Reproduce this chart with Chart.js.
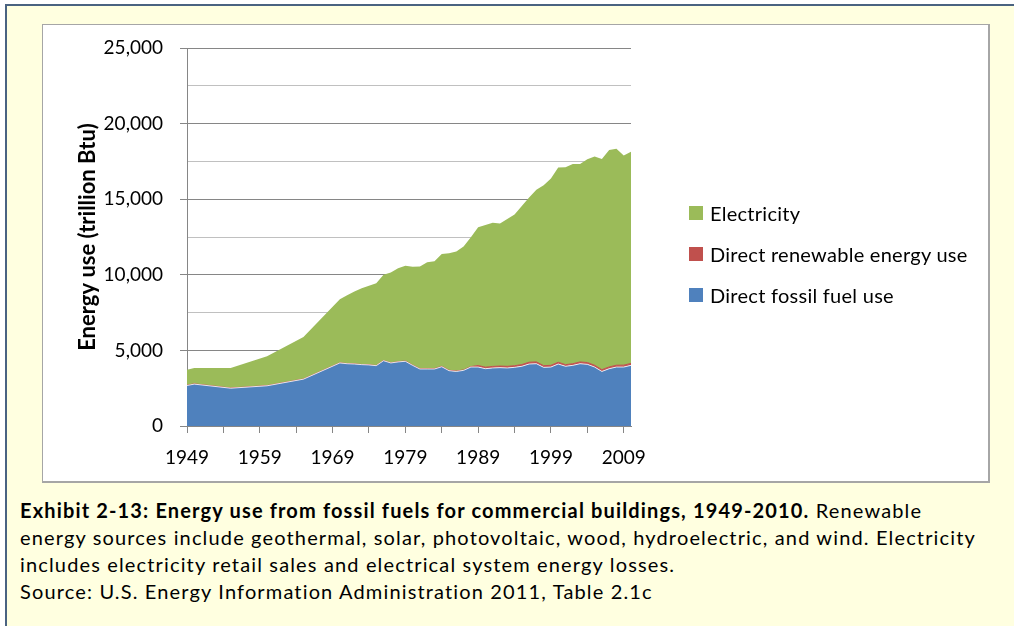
<!DOCTYPE html>
<html>
<head>
<meta charset="utf-8">
<script src="https://cdn.jsdelivr.net/npm/chart.js@4"></script>
<style>
  body { margin: 0; background: #fff; width: 1014px; height: 626px; overflow: hidden; font-family: 'Lato', sans-serif; }
  .frame { position: absolute; left: 5px; top: 4px; width: 1030px; height: 640px; background: #FFFFE0; border-top: 2px solid #4a6381; border-left: 2px solid #4a6381; }
  .chart-box { position: absolute; left: 35px; top: 18px; width: 945px; height: 456px; background: #fff; border: 1px solid #a6a6a6; border-right-width: 2px; border-bottom-width: 2px; }
  .chart-box canvas { display: block; }
  #legend-list { position: absolute; left: 646px; top: 178px; margin: 0; padding: 0; list-style: none; }
  #legend-list li { display: flex; align-items: center; height: 20px; margin-bottom: 21px; font-size: 20px; letter-spacing: 0.27px; white-space: nowrap; }
  #legend-list .swatch { width: 14px; height: 14px; margin-right: 7px; flex: none; }
  .caption { position: absolute; left: 13px; top: 491px; margin: 0; font-size: 20px; letter-spacing: 1.15px; line-height: 27px; color: #000; white-space: nowrap; }
</style>
</head>
<body>
<div class="frame">
  <div class="chart-box">
    <canvas id="energy-chart" width="945" height="456"></canvas>
    <ul id="legend-list"></ul>
  </div>
  <p class="caption"><b>Exhibit 2-13: Energy use from fossil fuels for commercial buildings, 1949-2010.</b> Renewable<br>energy sources include geothermal, solar, photovoltaic, wood, hydroelectric, and wind. Electricity<br>includes electricity retail sales and electrical system energy losses.<br>Source: U.S. Energy Information Administration 2011, Table 2.1c</p>
</div>
<script>
const years = [1949, 1950, 1955, 1960, 1965, 1970, 1971, 1972, 1973, 1974, 1975, 1976, 1977, 1978, 1979,
  1980, 1981, 1982, 1983, 1984, 1985, 1986, 1987, 1988, 1989, 1990, 1991, 1992, 1993, 1994, 1995,
  1996, 1997, 1998, 1999, 2000, 2001, 2002, 2003, 2004, 2005, 2006, 2007, 2008, 2009, 2010];

// trillion Btu
const fossilUse = [2680, 2770, 2500, 2660, 3100, 4170, 4120, 4100, 4060, 4040, 3990, 4320, 4170, 4240, 4280,
  4010, 3770, 3770, 3770, 3920, 3660, 3610, 3680, 3900, 3900, 3790, 3840, 3860, 3840, 3880, 3950,
  4100, 4120, 3880, 3900, 4100, 3950, 4010, 4120, 4080, 3900, 3610, 3790, 3900, 3900, 4010];
const renewableUse = [20, 20, 15, 13, 11, 9, 9, 9, 9, 9, 9, 9, 10, 10, 20,
  21, 21, 22, 23, 24, 25, 27, 27, 28, 100, 98, 100, 104, 106, 107, 113,
  118, 120, 110, 111, 118, 106, 110, 116, 119, 118, 115, 116, 120, 125, 130];
const electricityUse = [1020, 1050, 1325, 1940, 2770, 4200, 4520, 4780, 5040, 5220, 5450, 5670, 5980, 6190, 6300,
  6500, 6760, 7030, 7100, 7430, 7740, 7910, 8170, 8550, 9150, 9410, 9500, 9430, 9750, 10000, 10490,
  10900, 11390, 11930, 12350, 12880, 13060, 13200, 13100, 13450, 13810, 13940, 14340, 14320, 13870, 14000];

const xTickYears = [1949, 1954, 1959, 1964, 1969, 1974, 1979, 1984, 1989, 1994, 1999, 2004, 2009];
const xLabelYears = [1949, 1959, 1969, 1979, 1989, 1999, 2009];
const yLabelStep = 5000;

const axisGray = '#868686';
const minorGray = '#c0c0c0';

const toPoints = (values) => years.map((year, i) => ({ x: year, y: values[i] }));
const isMajor = (c) => c.tick && c.tick.value % yLabelStep === 0;

// legend built as html so it can sit where the original one is
const htmlLegend = {
  id: 'htmlLegend',
  afterUpdate(chart) {
    const list = document.getElementById('legend-list');
    list.innerHTML = '';
    const items = Chart.defaults.plugins.legend.labels.generateLabels(chart).reverse();
    items.forEach((item) => {
      const li = document.createElement('li');
      const swatch = document.createElement('span');
      swatch.className = 'swatch';
      swatch.style.background = item.fillStyle;
      li.appendChild(swatch);
      li.appendChild(document.createTextNode(item.text));
      list.appendChild(li);
    });
  },
};

Chart.defaults.font.family = 'Lato';
Chart.defaults.color = '#000';

const energyChart = new Chart(document.getElementById('energy-chart'), {
  type: 'line',
  data: {
    datasets: [
      {
        label: 'Direct fossil fuel use',
        data: toPoints(fossilUse),
        backgroundColor: '#4F81BD',
        borderColor: 'rgba(255, 255, 255, 0.8)',
        borderWidth: 1,
        fill: 'origin',
      },
      {
        label: 'Direct renewable energy use',
        data: toPoints(renewableUse),
        backgroundColor: '#C0504D',
        borderColor: '#C0504D',
        borderWidth: 1,
        fill: '-1',
      },
      {
        label: 'Electricity',
        data: toPoints(electricityUse),
        backgroundColor: '#9BBB59',
        borderColor: 'rgba(0, 0, 0, 0)',
        borderWidth: 0,
        fill: '-1',
      },
    ],
  },
  options: {
    responsive: false,
    animation: false,
    elements: {
      point: { radius: 0 },
      line: { tension: 0 },
    },
    layout: {
      padding: { top: 23, right: 357, bottom: 0, left: 0 },
    },
    scales: {
      x: {
        type: 'linear',
        min: 1949,
        max: 2010,
        afterBuildTicks: (scale) => {
          scale.ticks = xTickYears.map((value) => ({ value }));
        },
        afterFit: (scale) => {
          scale.height = 55;
        },
        ticks: {
          autoSkip: false,
          maxRotation: 0,
          padding: 13,
          font: { size: 19 },
          callback: (value) => (xLabelYears.includes(value) ? String(value) : ''),
        },
        grid: { drawOnChartArea: false, tickLength: 7, color: axisGray },
        border: { color: axisGray },
      },
      y: {
        stacked: true,
        min: 0,
        max: 25000,
        afterFit: (scale) => {
          scale.width = 144;
          // the label padding would otherwise push the plot down
          scale.paddingTop = 0;
          scale.paddingBottom = 0;
        },
        ticks: {
          stepSize: 2500,
          padding: 17,
          font: { size: 19 },
          callback: (value) => (value % yLabelStep === 0 ? value.toLocaleString('en-US') : ''),
        },
        grid: {
          tickLength: 7,
          color: (c) => (isMajor(c) ? axisGray : minorGray),
          tickColor: (c) => (isMajor(c) ? axisGray : 'rgba(0, 0, 0, 0)'),
        },
        border: { color: axisGray },
        title: {
          display: true,
          text: 'Energy use (trillion Btu)',
          font: { size: 22, weight: 'bold' },
          padding: { top: 32, bottom: 0 },
        },
      },
    },
    plugins: {
      tooltip: { enabled: false },
      legend: { display: false },
    },
  },
  plugins: [htmlLegend],
});
</script>
</body>
</html>
